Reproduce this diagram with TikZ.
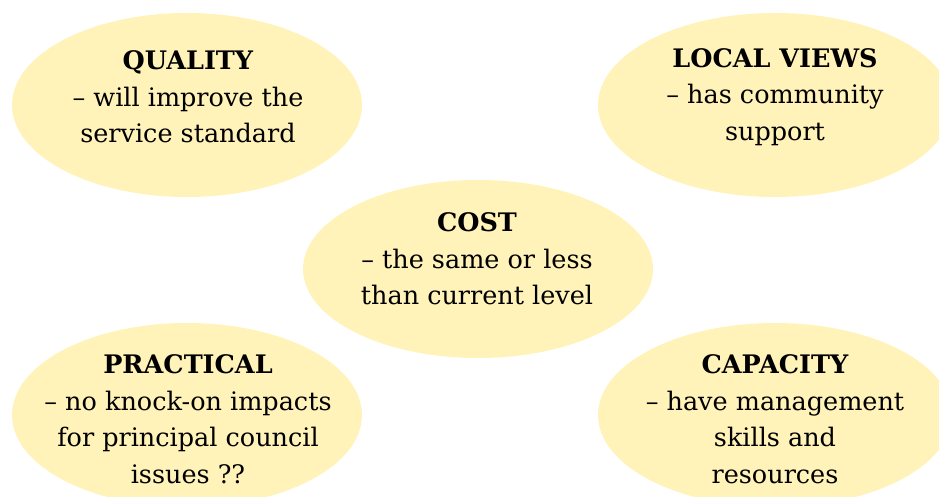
\documentclass[tikz,border=0pt]{standalone}
\usepackage{fontspec}
\setmainfont{DejaVu Serif}
\begin{document}
\begin{tikzpicture}[x=1pt,y=-1pt,
  bubble/.style={fill=bubblefill,draw=none},
  label/.style={align=center,font=\fontsize{25.5}{36.5}\selectfont,text=black}]
\definecolor{bubblefill}{RGB}{255,243,186}
\useasboundingbox (0,0) rectangle (939,497);
\begin{scope}
\clip (0,0) rectangle (939,497);
% the five criteria bubbles
\fill[bubble] (187,105) ellipse [x radius=175, y radius=92];
\fill[bubble] (775,105) ellipse [x radius=177, y radius=92];
\fill[bubble] (478,269) ellipse [x radius=175, y radius=89];
\fill[bubble] (187,415) ellipse [x radius=175, y radius=92];
\fill[bubble] (775,415) ellipse [x radius=177, y radius=92];
\end{scope}
\node[label] (quality) at (188,97) {\textbf{QUALITY}\\– will improve the\\service standard};
\node[label] (local) at (775,97) {\textbf{LOCAL VIEWS}\\– has community\\support};
\node[label] (cost) at (477,259) {\textbf{COST}\\– the same or less\\than current level};
\node[label] (practical) at (188,419) {\textbf{PRACTICAL}\\– no knock-on impacts\\for principal council\\issues ??};
\node[label] (capacity) at (775,419) {\textbf{CAPACITY}\\– have management\\skills and\\resources};
\end{tikzpicture}
\end{document}
